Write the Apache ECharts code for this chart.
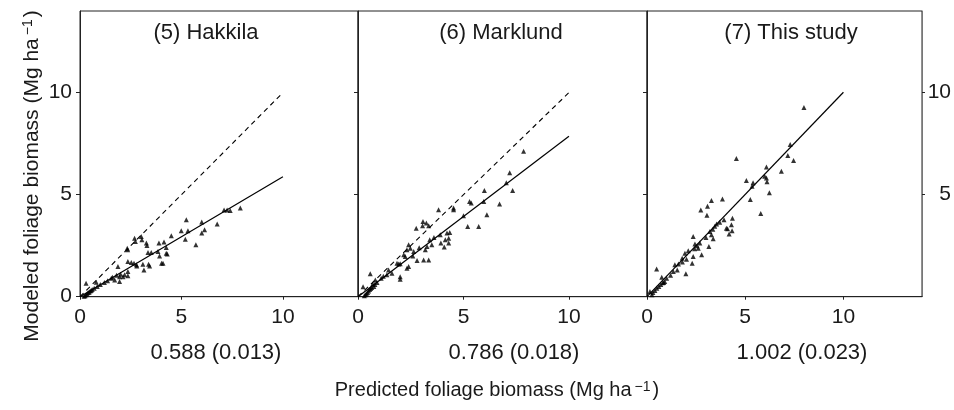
<!DOCTYPE html>
<html><head><meta charset="utf-8">
<script src="https://cdn.jsdelivr.net/npm/echarts@6/dist/echarts.min.js"></script>
<style>html,body{margin:0;padding:0;background:#fff}#c{width:954px;height:410px}</style>
</head><body><div id="c"></div>
<script>
const panelTitles = ['(5) Hakkila', '(6) Marklund', '(7) This study'];
const slopeLabels = ['0.588 (0.013)', '0.786 (0.018)', '1.002 (0.023)'];
const fitSlopes = [0.588, 0.786, 1.002];
const fitLineEndX = 10;
const showOneToOne = [true, true, false];
const xTickValues = [0, 5, 10];
const yTickValues = [0, 5, 10];
const rightTickValues = [5, 10];
const xMaxes = [13.7, 13.7, 14.0];
const yMax = 14;

const hakkila = [
  [7.9,4.35],[7.1,4.25],[7.25,4.25],[7.4,4.22],[5.24,3.77],[6.0,3.66],[6.76,3.56],[4.99,3.23],[5.32,3.23],
  [6.14,3.28],[6.0,3.12],[4.5,2.99],[5.19,2.82],[5.71,2.54],[2.69,2.87],[3.02,2.95],[2.73,2.71],[3.05,2.79],
  [3.27,2.63],[3.3,2.51],[2.33,2.38],[2.35,2.3],[3.89,2.63],[4.14,2.68],[4.25,2.41],[3.84,2.21],[3.92,2.0],
  [3.35,2.16],[3.51,2.16],[4.25,2.13],[4.3,2.09],[4.09,1.64],[2.36,1.72],[2.53,1.67],[2.66,1.64],[2.78,1.56],
  [3.1,1.59],[3.38,1.59],[3.43,1.51],[3.15,1.31],[1.87,1.48],[2.36,1.23],[2.36,1.03],[1.95,0.98],[1.95,0.74],
  [1.54,0.9],[1.71,0.82],[2.12,0.98],[2.2,1.07],[1.36,0.78],[1.2,0.7],[1.0,0.6],[0.8,0.71],[0.85,0.5],
  [0.7,0.42],[0.6,0.35],[0.5,0.28],[0.4,0.2],[0.35,0.15],[0.3,0.1],[0.25,0.05],[0.2,0.02],[0.3,0.66],
  [1.6,0.95],[1.8,1.05],[2.0,1.1],[2.8,1.5],[4.02,1.64],[0.55,0.3],[0.45,0.22]
];
const marklund = [
  [7.85,7.13],[7.19,6.07],[7.03,5.58],[7.33,5.2],[5.99,5.21],[5.96,4.67],[6.71,4.54],[5.29,4.67],[5.37,4.59],
  [6.11,4.02],[5.0,3.97],[5.2,3.44],[5.72,3.44],[4.53,4.35],[4.53,4.26],[3.82,4.26],[3.08,3.69],[3.24,3.61],
  [3.06,3.48],[2.76,3.36],[3.35,3.48],[4.22,3.12],[4.35,3.15],[4.3,2.87],[4.14,2.79],[3.93,2.63],[4.09,2.43],
  [4.3,2.63],[3.9,3.03],[3.4,2.79],[3.5,2.54],[3.27,2.46],[3.19,2.3],[2.4,2.54],[2.48,2.38],[2.32,2.3],
  [2.64,2.21],[2.17,2.05],[2.24,1.97],[3.11,1.8],[3.35,1.8],[2.8,1.77],[1.85,1.64],[1.93,1.6],[2.0,1.62],
  [2.32,1.4],[2.4,1.48],[2.0,0.98],[2.0,0.86],[1.45,1.31],[1.61,1.15],[1.37,1.07],[0.58,1.12],[0.82,0.82],
  [0.24,0.49],[0.9,0.7],[0.8,0.6],[0.75,0.5],[0.65,0.45],[0.55,0.35],[0.5,0.28],[0.45,0.2],[0.4,0.15],
  [0.35,0.1],[0.3,0.05],[0.6,0.4],[0.7,0.62],[1.1,0.9],[1.2,1.0],[2.6,2.0],[2.9,2.4],[3.6,2.9]
];
const thisStudy = [
  [7.99,9.27],[7.29,7.46],[7.17,6.92],[7.46,6.67],[4.55,6.77],[6.84,6.15],[6.08,6.35],[5.99,5.9],[6.08,5.82],
  [6.11,5.63],[5.06,5.69],[5.4,5.58],[5.35,5.41],[6.23,5.09],[5.26,4.76],[5.79,4.08],[3.84,4.79],[3.28,4.72],
  [3.08,4.43],[2.74,4.25],[3.05,3.99],[4.35,3.85],[4.3,3.53],[4.04,3.36],[4.33,3.23],[4.18,3.07],[4.1,3.33],
  [3.92,3.77],[3.54,3.56],[3.45,3.45],[3.35,3.3],[3.2,3.2],[3.28,3.03],[3.37,2.84],[2.35,2.95],[2.44,2.58],
  [2.61,2.38],[2.42,2.35],[2.69,2.63],[3.15,2.46],[2.1,2.25],[1.93,2.13],[1.79,1.89],[2.01,1.84],[2.78,2.05],
  [2.35,1.97],[2.3,1.64],[1.42,1.56],[1.54,1.31],[1.34,1.23],[1.98,1.12],[0.49,1.36],[0.75,0.95],[0.9,0.75],
  [0.85,0.7],[0.8,0.68],[0.7,0.6],[0.6,0.5],[0.5,0.42],[0.4,0.3],[0.3,0.2],[0.15,0.25],[0.25,0.1],[1.0,0.9],
  [1.2,1.05],[1.6,1.6],[1.8,1.7],[2.55,2.5],[3.7,3.65],[3.0,2.9]
];
const panelData = [hakkila, marklund, thisStudy];

const FONT = "'Liberation Sans', Arial, Helvetica, sans-serif";
const INK = '#1a1a1a';
const gridBoxes = [{left: 80, width: 278}, {left: 358, width: 289}, {left: 647, width: 276}];
const titlePos = [[206, 33], [501, 33], [791, 33]];
const slopePos = [[216, 353], [514, 353], [802, 353]];

const grid = gridBoxes.map(g => ({
  left: g.left, width: g.width, top: 11, height: 285.7,
  show: true, borderColor: '#222', borderWidth: 1, backgroundColor: 'transparent'
}));

const xAxis = gridBoxes.map((g, i) => ({
  type: 'value', gridIndex: i, min: 0, max: xMaxes[i], interval: 5,
  splitLine: {show: false},
  axisLine: {show: true, onZero: false, lineStyle: {color: '#222', width: 1}},
  axisTick: {show: true, inside: false, length: 3, customValues: xTickValues, lineStyle: {color: '#222'}},
  axisLabel: {show: true, customValues: xTickValues, fontSize: 21, color: INK, fontFamily: FONT, margin: 10}
}));

const yAxis = [0, 1, 2].map(i => ({
  type: 'value', gridIndex: i, min: 0, max: yMax, interval: 5, position: 'left',
  splitLine: {show: false},
  axisLine: {show: true, onZero: false, lineStyle: {color: '#222', width: 1}},
  axisTick: {show: true, inside: false, length: 4, customValues: yTickValues, lineStyle: {color: '#222'}},
  axisLabel: {show: i === 0, customValues: yTickValues, fontSize: 21, color: INK, fontFamily: FONT, margin: 8}
}));
yAxis.push({
  type: 'value', gridIndex: 2, min: 0, max: yMax, interval: 5, position: 'right',
  splitLine: {show: false},
  axisLine: {show: true, onZero: false, lineStyle: {color: '#777', width: 1}},
  axisTick: {show: true, inside: false, length: 3, customValues: rightTickValues, lineStyle: {color: '#222'}},
  axisLabel: {show: true, customValues: rightTickValues, fontSize: 21, color: INK, fontFamily: FONT, margin: 29, align: 'right'}
});

const series = [];
panelData.forEach((d, i) => {
  series.push({
    type: 'scatter', xAxisIndex: i, yAxisIndex: i, data: d,
    symbol: 'triangle', symbolSize: 5, itemStyle: {color: '#000'}, silent: true, z: 3
  });
  series.push({
    type: 'line', xAxisIndex: i, yAxisIndex: i, showSymbol: false, symbol: 'none', silent: true,
    data: [[0, 0], [fitLineEndX, fitLineEndX * fitSlopes[i]]],
    lineStyle: {color: '#000', width: 1.2}, z: 2
  });
  if (showOneToOne[i]) {
    series.push({
      type: 'line', xAxisIndex: i, yAxisIndex: i, showSymbol: false, symbol: 'none', silent: true,
      data: [[0, 0], [fitLineEndX, fitLineEndX]],
      lineStyle: {color: '#000', width: 1.1, type: [5, 4]}, z: 2
    });
  }
});

const graphic = [];
panelTitles.forEach((t, i) => {
  graphic.push({type: 'text', x: titlePos[i][0], y: titlePos[i][1],
    style: {text: t, font: '22px ' + FONT, fill: INK, textAlign: 'center', textVerticalAlign: 'middle'}});
  graphic.push({type: 'text', x: slopePos[i][0], y: slopePos[i][1],
    style: {text: slopeLabels[i], font: '22px ' + FONT, fill: INK, textAlign: 'center', textVerticalAlign: 'middle'}});
});
const richX = {
  a: {fontSize: 20, fontFamily: FONT, fill: INK, color: INK},
  b: {fontSize: 14, fontFamily: FONT, fill: INK, color: INK, verticalAlign: 'top', padding: [0, 2, 0, 3]}
};
const richY = {
  a: {fontSize: 21, fontFamily: FONT, fill: INK, color: INK},
  b: {fontSize: 14, fontFamily: FONT, fill: INK, color: INK, verticalAlign: 'top', padding: [0, 2, 0, 3]}
};
graphic.push({type: 'text', x: 497, y: 390,
  style: {text: '{a|Predicted foliage biomass (Mg ha}{b|−1}{a|)}', rich: richX, textAlign: 'center', textVerticalAlign: 'middle'}});
graphic.push({type: 'text', x: 32, y: 176, rotation: Math.PI / 2,
  style: {text: '{a|Modeled foliage biomass (Mg ha}{b|−1}{a|)}', rich: richY, textAlign: 'center', textVerticalAlign: 'middle'}});

const chart = echarts.init(document.getElementById('c'), null, {renderer: 'canvas'});
chart.setOption({animation: false, backgroundColor: '#fff', grid, xAxis, yAxis, series, graphic});
</script></body></html>
